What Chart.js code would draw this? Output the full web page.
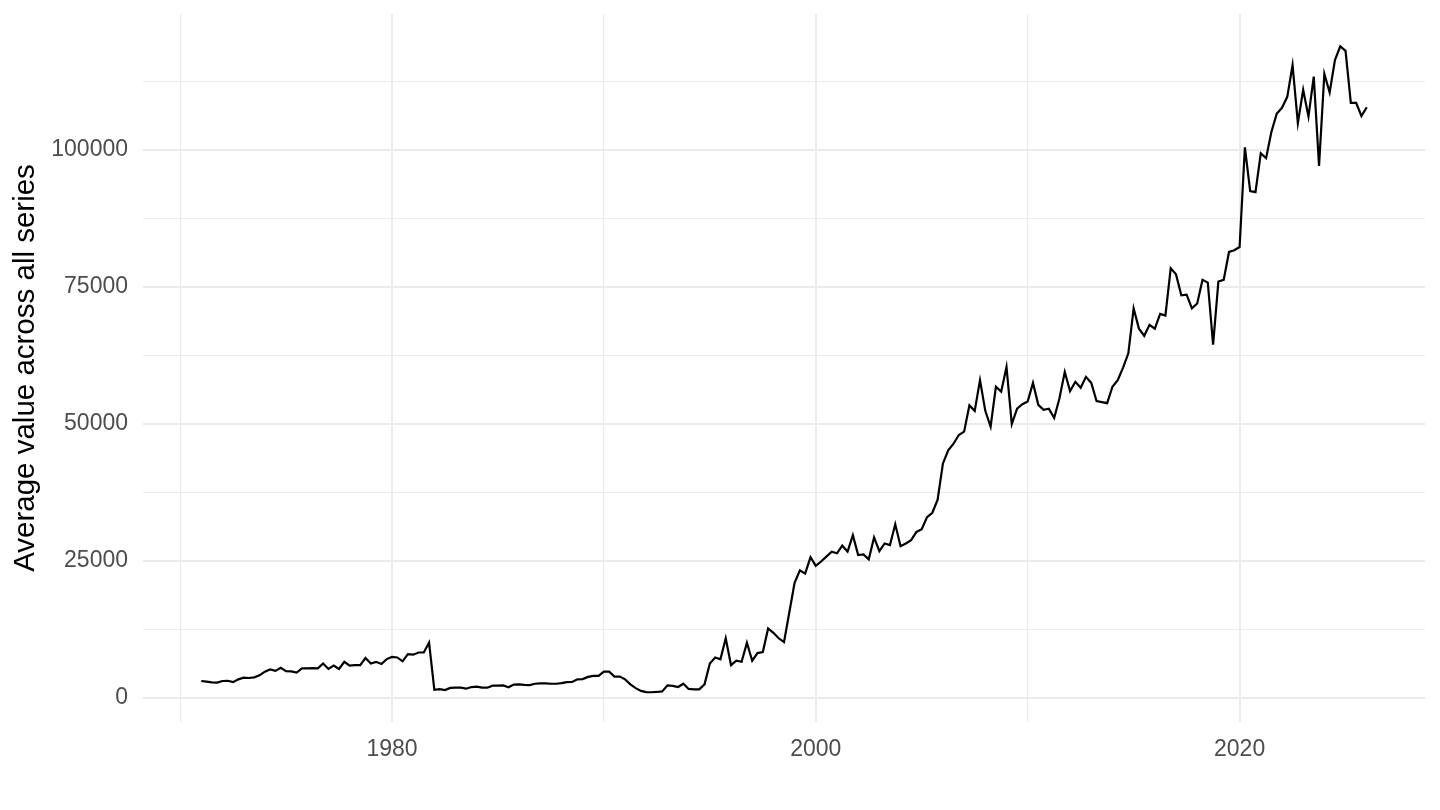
<!DOCTYPE html>
<html>
<head>
<meta charset="utf-8">
<script src="https://cdn.jsdelivr.net/npm/chart.js@4.4.1/dist/chart.umd.min.js"></script>
<style>
  html, body { margin: 0; padding: 0; background: #ffffff; }
  #wrap { width: 1440px; height: 810px; }
</style>
</head>
<body>
<div id="wrap"><canvas id="chart-average" width="1440" height="810"></canvas></div>
<script>
// quarterly series, first quarter = 1971 Q1
firstYear = 1971
periodsPerYear = 4

averageValues = [
    3100, 3000, 2850, 2800, 3100, 3150, 2900, 3400, 3700, 3650,
    3770, 4140, 4800, 5200, 4950, 5500, 4900, 4850, 4650, 5400,
    5400, 5450, 5400, 6300, 5300, 5900, 5300, 6600, 5900, 6000,
    6000, 7300, 6300, 6600, 6200, 7100, 7500, 7400, 6700, 8000,
    7900, 8300, 8300, 10100, 1500, 1600, 1450, 1850, 1880, 1880,
    1700, 2000, 2070, 1900, 1880, 2250, 2250, 2300, 1950, 2450,
    2490, 2400, 2350, 2600, 2680, 2680, 2600, 2600, 2700, 2900,
    2920, 3400, 3450, 3850, 4050, 4020, 4800, 4800, 3900, 3900,
    3400, 2500, 1800, 1300, 1080, 1050, 1100, 1200, 2300, 2200,
    2000, 2600, 1650, 1580, 1580, 2500, 6300, 7400, 7050, 10900,
    6000, 6800, 6600, 10100, 6800, 8200, 8400, 12700, 11900, 10900,
    10200, 15600, 21000, 23300, 22700, 25700, 24100, 24900, 25800, 26700,
    26400, 27800, 26700, 29700, 26100, 26200, 25300, 29300, 26800, 28200,
    27900, 31700, 27700, 28200, 28800, 30300, 30800, 33000, 33800, 36200,
    42800, 45200, 46400, 48000, 48600, 53400, 52400, 58000, 52400, 49500,
    56800, 55900, 60400, 50000, 52800, 53600, 54100, 57500, 53500, 52600,
    52800, 51100, 54700, 59500, 56000, 57700, 56600, 58600, 57500, 54200,
    54000, 53800, 56800, 58000, 60300, 62900, 71100, 67400, 66100, 68100,
    67400, 70100, 69800, 78400, 77300, 73500, 73600, 71100, 72000, 76300,
    75800, 64500, 76000, 76300, 81400, 81700, 82300, 100500, 92500, 92300,
    99400, 98500, 103300, 106600, 107700, 109700, 115500, 104900, 111000, 106100,
    113400, 97100, 113900, 110500, 116400, 118900, 118100, 108600, 108600, 106200,
    107800,
];

xTicks = [1970, 1980, 1990, 2000, 2010, 2020];
xTickLabels = ['', '1980', '', '2000', '', '2020'];
yTicks = [0, 12500, 25000, 37500, 50000, 62500, 75000, 87500, 100000, 112500];
yTickLabels = ['0', '', '25000', '', '50000', '', '75000', '', '100000', ''];

gridColor = '#ebebeb'
tickColor = '#4d4d4d'
fontFamily = '"Liberation Sans", Arial, Helvetica, sans-serif'

var points = averageValues.map((v, i) => ({ x: firstYear + i / periodsPerYear, y: v }));

var ctx1 = document.getElementById('chart-average').getContext('2d');

new Chart(ctx1, {
    type: 'line',
    data: {
        datasets: [
            {
                label: 'Average value',
                data: points,
                borderColor: '#000000',
                borderWidth: 2.2,
                pointRadius: 0,
                tension: 0,
                fill: false,
            },
        ],
    },
    options: {
        responsive: false,
        animation: false,
        layout: {
            padding: { top: 14, right: 15, bottom: 0, left: 0 },
        },
        plugins: {
            legend: { display: false },
            tooltip: { enabled: false },
        },
        scales: {
            x: {
                type: 'linear',
                min: 1968.25,
                max: 2028.75,
                afterBuildTicks: (axis) => {
                    axis.ticks = xTicks.map((v) => ({ value: v }));
                },
                afterFit: (axis) => {
                    axis.height = 88;
                    axis.paddingLeft = 0;
                    axis.paddingRight = 0;
                },
                grid: {
                    color: gridColor,
                    lineWidth: (c) => (xTickLabels[xTicks.indexOf(c.tick.value)] ? 2 : 1.1),
                    drawTicks: false,
                },
                border: { display: false },
                ticks: {
                    color: tickColor,
                    padding: 14,
                    maxRotation: 0,
                    autoSkip: false,
                    font: { family: fontFamily, size: 23 },
                    callback: (value) => xTickLabels[xTicks.indexOf(value)] || '',
                },
            },
            y: {
                type: 'linear',
                min: -4380,
                max: 124818,
                afterBuildTicks: (axis) => {
                    axis.ticks = yTicks.map((v) => ({ value: v }));
                },
                afterFit: (axis) => {
                    axis.width = 143;
                    axis.paddingTop = 0;
                    axis.paddingBottom = 0;
                },
                grid: {
                    color: gridColor,
                    lineWidth: (c) => (yTickLabels[yTicks.indexOf(c.tick.value)] ? 2 : 1.1),
                    drawTicks: false,
                },
                border: { display: false },
                title: {
                    display: true,
                    text: 'Average value across all series',
                    color: '#000000',
                    font: { family: fontFamily, size: 29.5 },
                    padding: { top: 8, bottom: 0 },
                },
                ticks: {
                    color: tickColor,
                    padding: 15,
                    autoSkip: false,
                    font: { family: fontFamily, size: 23 },
                    callback: (value) => yTickLabels[yTicks.indexOf(value)] || '',
                },
            },
        },
    },
});
</script>
</body>
</html>
